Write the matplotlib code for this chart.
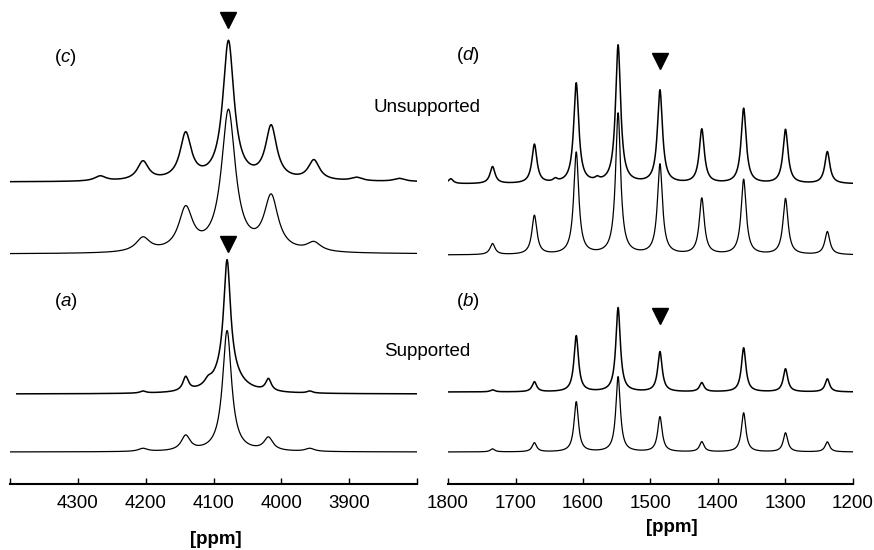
import numpy as np
import matplotlib.pyplot as plt

plt.rcParams['font.family'] = ['Liberation Sans', 'DejaVu Sans']
plt.rcParams['mathtext.fontset'] = 'custom'
plt.rcParams['mathtext.it'] = 'Liberation Sans:italic'
plt.rcParams['mathtext.rm'] = 'Liberation Sans'

# peak tables: position [ppm], height [a.u.], half width [ppm]
# (c) unsupported, experimental
c_exp_pos = [4267, 4204, 4141, 4078, 4015, 3952, 3889, 3826]
c_exp_h = [5, 19, 46, 139, 53, 20, 3.5, 3]
c_exp_w = [10, 10, 10, 10, 10, 10, 10, 10]
# (c) unsupported, simulated
c_sim_pos = [4204, 4141, 4078, 4015, 3952]
c_sim_h = [14, 42, 141, 54, 9]
c_sim_w = [12.5, 12.5, 12.5, 12.5, 12.5]
# (a) supported, experimental (narrow line on a broad foot)
a_exp_pos = [4204, 4141, 4108, 4080, 4080, 4019, 3958]
a_exp_h = [2, 14, 5, 112, 22, 12, 2]
a_exp_w = [5, 5, 6, 6, 22, 5, 5]
# (a) supported, simulated
a_sim_pos = [4204, 4141, 4080, 4019, 3958]
a_sim_h = [3, 15, 121, 13, 3]
a_sim_w = [8, 8, 8, 8, 8]

# (d) unsupported, experimental
d_exp_pos = [1796, 1734, 1672, 1641, 1610, 1579, 1548, 1486, 1424, 1362, 1300, 1238]
d_exp_h = [5, 17, 39, 3, 100, 3, 138, 93, 54, 75, 54, 32]
d_exp_w = [4.5, 4.5, 4.5, 4, 4.5, 4, 4.5, 4.5, 4.5, 4.5, 4.5, 4.5]
# (d) unsupported, simulated
d_sim_pos = [1734, 1672, 1610, 1548, 1486, 1424, 1362, 1300, 1238]
d_sim_h = [11, 39, 102, 141, 90, 56, 75, 56, 23]
d_sim_w = [4.5, 4.5, 4.5, 4.5, 4.5, 4.5, 4.5, 4.5, 4.5]
# (b) supported, experimental
b_exp_pos = [1734, 1672, 1610, 1548, 1486, 1424, 1362, 1300, 1238]
b_exp_h = [2, 10, 56, 84, 40, 9, 44, 23, 13]
b_exp_w = [4, 4, 4, 4, 4, 4, 4, 4, 4]
# (b) supported, simulated
b_sim_pos = [1734, 1672, 1610, 1548, 1486, 1424, 1362, 1300, 1238]
b_sim_h = [3, 9, 50, 75, 35, 10, 39, 19, 10]
b_sim_w = [4, 4, 4, 4, 4, 4, 4, 4, 4]

left_ticks = [4400, 4300, 4200, 4100, 4000, 3900, 3800]
left_labels = ['', '4300', '4200', '4100', '4000', '3900', '']
right_ticks = [1800, 1700, 1600, 1500, 1400, 1300, 1200]
right_labels = ['1800', '1700', '1600', '1500', '1400', '1300', '1200']

marker_left = 4078
marker_right = 1486


def spectrum(x, pos, h, w):
    y = np.zeros_like(x)
    for p, a, g in zip(pos, h, w):
        y += a * g**2 / ((x - p)**2 + g**2)
    return y


W, H = 874, 550
fig = plt.figure(figsize=(W / 100, H / 100), dpi=100)
spine_y = 484


def make_ax(x0, x1):
    ax = fig.add_axes([x0 / W, (H - spine_y) / H, (x1 - x0) / W, spine_y / H])
    ax.set_ylim(0, spine_y)
    for s in ['top', 'left', 'right']:
        ax.spines[s].set_visible(False)
    ax.spines['bottom'].set_linewidth(1.5)
    ax.set_yticks([])
    ax.tick_params(axis='x', direction='in', length=4, width=1, pad=8, labelsize=13.5)
    return ax


axL = make_ax(10, 417)
axR = make_ax(448, 853)

exp_lw = 1.1
sim_lw = 0.9

xl = np.linspace(4390, 3800, 5000)
xl2 = np.linspace(4400, 3800, 5000)
axL.plot(xl2, 302 + spectrum(xl2, c_exp_pos, c_exp_h, c_exp_w), color='black', lw=exp_lw)
axL.plot(xl2, 230 + spectrum(xl2, c_sim_pos, c_sim_h, c_sim_w), color='black', lw=sim_lw)
axL.plot(xl, 90 + spectrum(xl, a_exp_pos, a_exp_h, a_exp_w), color='black', lw=exp_lw)
axL.plot(xl2, 32 + spectrum(xl2, a_sim_pos, a_sim_h, a_sim_w), color='black', lw=sim_lw)
axL.set_xlim(4400, 3800)
axL.set_xticks(left_ticks)
axL.set_xticklabels(left_labels)

xr = np.linspace(1800, 1200, 5000)
axR.plot(xr, 300 + spectrum(xr, d_exp_pos, d_exp_h, d_exp_w), color='black', lw=exp_lw)
axR.plot(xr, 229 + spectrum(xr, d_sim_pos, d_sim_h, d_sim_w), color='black', lw=sim_lw)
axR.plot(xr, 92 + spectrum(xr, b_exp_pos, b_exp_h, b_exp_w), color='black', lw=exp_lw)
axR.plot(xr, 32 + spectrum(xr, b_sim_pos, b_sim_h, b_sim_w), color='black', lw=sim_lw)
axR.set_xlim(1800, 1200)
axR.set_xticks(right_ticks)
axR.set_xticklabels(right_labels)

# triangles marking the central transition
axL.plot([marker_left], [spine_y - 20], marker='v', ms=12, color='black', clip_on=False)
axL.plot([marker_left], [spine_y - 244], marker='v', ms=12, color='black', clip_on=False)
axR.plot([marker_right], [spine_y - 61], marker='v', ms=12, color='black', clip_on=False)
axR.plot([marker_right], [spine_y - 316], marker='v', ms=12, color='black', clip_on=False)

fs = 13.5
fig.text(54 / W, 1 - 57 / H, r'($\mathit{c}$)', fontsize=fs, va='center')
fig.text(54 / W, 1 - 301 / H, r'($\mathit{a}$)', fontsize=fs, va='center')
fig.text(456 / W, 1 - 56 / H, r'($\mathit{d}$)', fontsize=fs, va='center')
fig.text(456 / W, 1 - 301 / H, r'($\mathit{b}$)', fontsize=fs, va='center')
fig.text(427 / W, 1 - 107 / H, 'Unsupported', fontsize=fs, ha='center', va='center')
fig.text(427 / W, 1 - 351 / H, 'Supported', fontsize=fs, ha='center', va='center')
fig.text(216 / W, 1 - 539 / H, '[ppm]', fontsize=fs, fontweight='bold', ha='center', va='center')
fig.text(672 / W, 1 - 527 / H, '[ppm]', fontsize=fs, fontweight='bold', ha='center', va='center')

fig.savefig('out.png', dpi=100)
